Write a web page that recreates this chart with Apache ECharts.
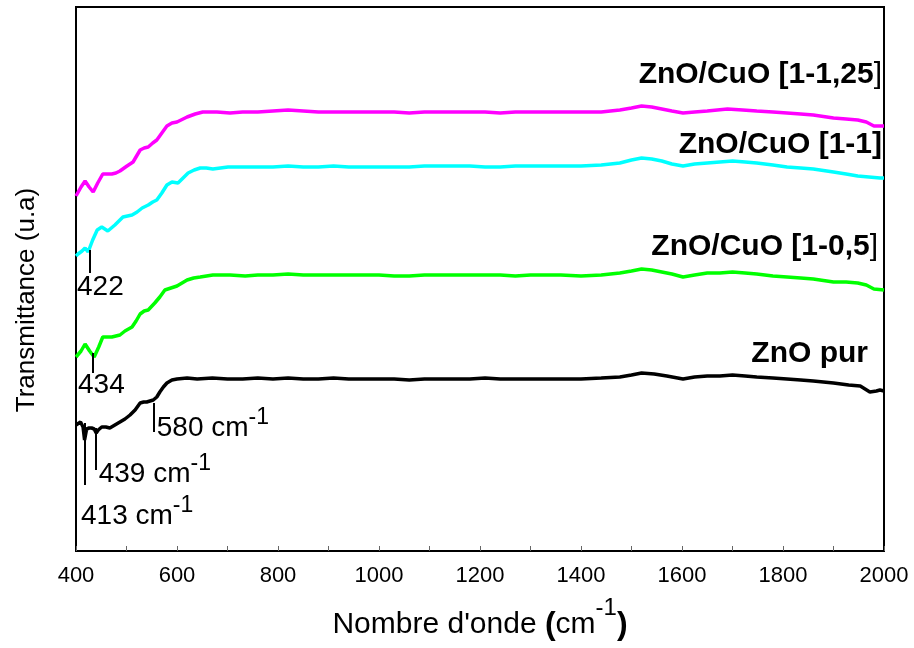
<!DOCTYPE html>
<html>
<head>
<meta charset="utf-8">
<script src="https://cdn.jsdelivr.net/npm/echarts@6/dist/echarts.min.js"></script>
<style>
  html, body { margin: 0; padding: 0; background: #fff; }
  #chart { width: 914px; height: 648px; }
</style>
</head>
<body>
<div id="chart"></div>
<script>
// FTIR spectra: wavenumber (cm^-1) vs transmittance (arbitrary units, offset curves)
const xTicks = [400, 600, 800, 1000, 1200, 1400, 1600, 1800, 2000];

const seriesNames = ['ZnO pur', 'ZnO/CuO [1-0,5]', 'ZnO/CuO [1-1]', 'ZnO/CuO [1-1,25]'];

const znoPur = [[400,126],[403,124],[409,129],[414,124],[417,111],[421,122],[426,123],[431,123],[436,122],[440,118],[444,121],[451,124],[459,124],[467,123],[477,126],[487,129],[497,132],[507,136],[517,141],[527,148],[534,149],[540,149],[553,151],[560,154],[566,159],[573,164],[580,168],[590,171],[600,172],[620,173],[640,172],[670,173],[700,172],[730,172],[760,173],[790,172],[820,173],[850,172],[880,172],[910,173],[940,172],[970,172],[1000,172],[1030,172],[1060,171],[1090,172],[1120,172],[1150,172],[1180,172],[1210,173],[1240,172],[1270,172],[1300,172],[1330,172],[1360,172],[1400,172],[1440,173],[1477,174],[1500,176],[1520,178],[1545,177],[1570,175],[1602,172],[1625,174],[1650,175],[1675,175],[1700,176],[1725,175],[1748,174],[1780,173],[1808,172],[1835,171],[1860,170],[1900,168],[1930,166],[1953,165],[1972,159],[1985,160],[1992,161],[2000,160]];

const cuo05 = [[400,194],[410,200],[418,207],[427,200],[436,194],[445,204],[453,214],[462,214],[471,214],[479,215],[487,216],[497,220],[511,224],[519,230],[527,237],[535,240],[543,241],[556,248],[566,254],[576,261],[588,263],[600,265],[620,271],[633,273],[646,274],[671,276],[690,276],[705,276],[735,275],[760,276],[790,276],[820,277],[850,276],[880,276],[910,276],[940,276],[970,276],[1000,276],[1030,275],[1060,275],[1090,276],[1120,276],[1150,276],[1180,276],[1210,276],[1240,276],[1270,275],[1300,276],[1330,276],[1360,276],[1400,275],[1440,276],[1477,278],[1500,280],[1520,282],[1540,281],[1560,279],[1580,277],[1602,274],[1625,276],[1650,278],[1675,278],[1700,279],[1725,278],[1748,277],[1780,275],[1808,274],[1835,273],[1860,272],[1900,269],[1925,269],[1948,268],[1965,266],[1980,262],[2000,261]];

const cuo1 = [[400,295],[404,297],[412,300],[418,303],[424,299],[433,311],[442,321],[451,324],[463,320],[477,326],[485,330],[493,334],[502,335],[511,336],[521,339],[531,343],[543,346],[552,349],[560,351],[570,358],[580,366],[590,369],[602,368],[612,373],[622,378],[634,381],[646,383],[658,383],[671,382],[686,383],[701,384],[730,384],[760,384],[790,384],[820,385],[850,384],[880,384],[910,385],[940,384],[970,384],[1000,384],[1030,384],[1060,384],[1090,385],[1120,385],[1150,385],[1180,385],[1210,384],[1240,384],[1270,385],[1300,385],[1330,385],[1360,385],[1400,385],[1440,386],[1477,388],[1500,391],[1520,393],[1540,392],[1560,390],[1580,387],[1602,385],[1625,387],[1650,388],[1675,389],[1700,390],[1725,389],[1748,388],[1780,386],[1808,384],[1835,383],[1860,382],[1900,379],[1925,377],[1948,375],[1970,374],[1992,373],[2000,373]];

const cuo125 = [[400,355],[402,357],[410,364],[418,370],[426,364],[434,359],[443,368],[453,377],[462,377],[471,377],[479,378],[487,380],[501,385],[513,389],[520,395],[527,401],[535,403],[543,404],[552,408],[560,411],[570,418],[580,425],[590,428],[600,429],[620,434],[636,437],[651,439],[665,439],[679,439],[705,438],[730,439],[760,439],[790,440],[820,441],[850,440],[880,439],[910,439],[940,439],[970,439],[1000,439],[1030,439],[1060,438],[1090,439],[1120,439],[1150,439],[1180,439],[1210,439],[1240,438],[1270,439],[1300,439],[1330,439],[1360,439],[1400,439],[1440,439],[1477,441],[1500,443],[1520,445],[1540,444],[1560,442],[1580,440],[1602,438],[1625,439],[1650,440],[1670,441],[1690,442],[1720,441],[1748,440],[1780,439],[1808,438],[1835,437],[1860,436],[1900,433],[1925,432],[1948,431],[1965,429],[1980,425],[2000,425]];

// Band markers: [wavenumber, top, bottom]
const peakMarksPur = [[418,128,66],[440,123,81],[553,148,119]];
const peakMarks05 = [[434,198,178]];
const peakMarks1 = [[428,301,278]];

// Band annotations: [x, y, main text, superscript]
const bandLabels = [
  [410, 35, '413 cm', '-1'],
  [445, 77, '439 cm', '-1'],
  [560, 123, '580 cm', '-1'],
  [404, 166, '434', ''],
  [402, 264, '422', '']
];

const FONT = 'Liberation Sans, Arial, sans-serif';
const colors = ['#000000', '#00ff00', '#00ffff', '#ff00ff'];

function marks(list) {
  return {
    silent: true,
    symbol: ['none', 'none'],
    animation: false,
    label: { show: false },
    lineStyle: { color: '#000', width: 2, type: 'solid', opacity: 1 },
    emphasis: { disabled: true },
    data: list.map(m => [{ coord: [m[0], m[1]] }, { coord: [m[0], m[2]] }])
  };
}

function curve(name, data, color, markList) {
  const s = {
    name: name,
    type: 'line',
    data: data,
    showSymbol: false,
    smooth: false,
    lineStyle: { color: color, width: 3.5 },
    itemStyle: { color: color },
    z: 3
  };
  if (markList) s.markLine = marks(markList);
  return s;
}

const supRich = {
  b: { fontSize: 28, color: '#000', fontFamily: FONT },
  s: { fontSize: 23, color: '#000', fontFamily: FONT, padding: [0, 0, 20, 0] }
};

// Series caption: bold text, optionally with a regular-weight closing bracket
const captionRich = {
  b: { fontSize: 30, fontWeight: 'bold', fontFamily: FONT, fill: '#000' },
  n: { fontSize: 30, fontWeight: 'normal', fontFamily: FONT, fill: '#000' }
};
function caption(name, x, y, thinBracket) {
  const text = thinBracket
    ? '{b|' + name.slice(0, -1) + '}{n|' + name.slice(-1) + '}'
    : '{b|' + name + '}';
  return {
    type: 'text', x: x, y: y,
    style: { text: text, rich: captionRich, fill: '#000', align: 'right', verticalAlign: 'middle' }
  };
}

const chart = echarts.init(document.getElementById('chart'), null, { renderer: 'canvas' });

chart.setOption({
  animation: false,
  backgroundColor: '#fff',
  grid: {
    left: 76, right: 30, top: 7, bottom: 97,
    show: true, borderColor: '#000', borderWidth: 2, backgroundColor: 'transparent'
  },
  xAxis: {
    type: 'value',
    min: xTicks[0],
    max: xTicks[xTicks.length - 1],
    interval: 200,
    axisLine: { show: true, lineStyle: { color: '#000', width: 2 } },
    axisTick: { show: true, inside: true, length: 5, lineStyle: { color: '#666', width: 1 } },
    minorTick: { show: true, splitNumber: 2, length: 5, lineStyle: { color: '#666', width: 1 } },
    splitLine: { show: false },
    axisLabel: { color: '#000', fontSize: 22, fontFamily: FONT, margin: 14, formatter: v => String(v) },
    name: '{b|Nombre d\'onde }{p|(}{b|cm}{s|-1}{p|)}',
    nameLocation: 'middle',
    nameGap: 45,
    nameTextStyle: {
      rich: {
        b: { fontSize: 30, color: '#000', fontFamily: FONT },
        p: { fontSize: 32, fontWeight: 'bold', color: '#000', fontFamily: FONT },
        s: { fontSize: 24, color: '#000', fontFamily: FONT, padding: [0, 0, 34, 0] }
      }
    }
  },
  yAxis: {
    type: 'value',
    min: 0,
    max: 544,
    axisLine: { show: true, lineStyle: { color: '#000', width: 2 } },
    axisTick: { show: false },
    axisLabel: { show: false },
    splitLine: { show: false }
  },
  series: [
    curve(seriesNames[0], znoPur, colors[0], peakMarksPur),
    curve(seriesNames[1], cuo05, colors[1], peakMarks05),
    curve(seriesNames[2], cuo1, colors[2], peakMarks1),
    curve(seriesNames[3], cuo125, colors[3], null),
    {
      name: 'bandes',
      type: 'scatter',
      symbolSize: 0,
      silent: true,
      itemStyle: { opacity: 1 },
      data: bandLabels.map(b => ({ value: [b[0], b[1]], main: b[2], sup: b[3] })),
      label: {
        show: true,
        position: 'right',
        distance: 0,
        color: '#000',
        opacity: 1,
        formatter: p => p.data.sup ? '{b|' + p.data.main + '}{s|' + p.data.sup + '}' : '{b|' + p.data.main + '}',
        rich: supRich
      },
      z: 4
    }
  ],
  graphic: [
    {
      type: 'text', x: 27, y: 300, rotation: Math.PI / 2,
      style: { text: 'Transmittance (u.a)', font: '26px ' + FONT, fill: '#000', align: 'center', verticalAlign: 'middle' }
    },
    caption(seriesNames[3], 882, 75, true),
    caption(seriesNames[2], 882, 145, false),
    caption(seriesNames[1], 878, 247, true),
    caption(seriesNames[0], 868, 354, false)
  ]
});
</script>
</body>
</html>
